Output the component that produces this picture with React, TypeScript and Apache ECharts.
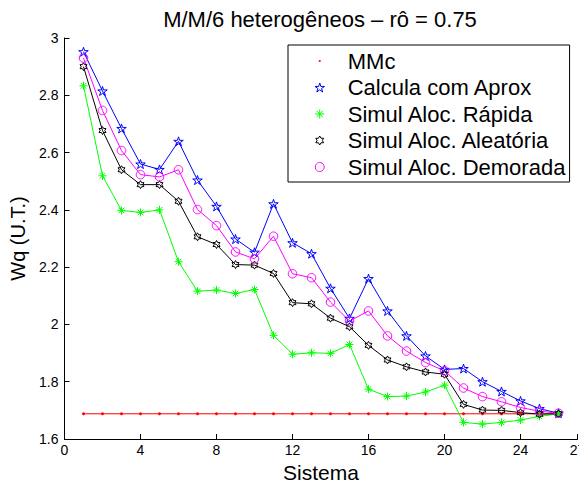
import React, { useEffect, useRef } from 'react';
import * as echarts from 'echarts';

// Sistema index (x) for every curve
const sistemas = [1, 2, 3, 4, 5, 6, 7, 8, 9, 10, 11, 12, 13, 14, 15, 16, 17, 18, 19, 20, 21, 22, 23, 24, 25, 26];

// Wq (U.T.) per sistema
const mmc = [1.688, 1.688, 1.688, 1.688, 1.688, 1.688, 1.688, 1.688, 1.688, 1.688, 1.688, 1.688, 1.688,
  1.688, 1.688, 1.688, 1.688, 1.688, 1.688, 1.688, 1.688, 1.688, 1.688, 1.688, 1.688, 1.688];
const calculaAprox = [2.952, 2.815, 2.684, 2.560, 2.541, 2.639, 2.504, 2.412, 2.298, 2.252, 2.421, 2.285, 2.247,
  2.126, 2.021, 2.160, 2.047, 1.960, 1.890, 1.843, 1.846, 1.800, 1.766, 1.733, 1.706, 1.690];
const alocRapida = [2.833, 2.519, 2.398, 2.391, 2.400, 2.219, 2.116, 2.120, 2.108, 2.122, 1.962, 1.896, 1.901,
  1.899, 1.930, 1.774, 1.748, 1.750, 1.764, 1.788, 1.658, 1.652, 1.658, 1.666, 1.679, 1.688];
const alocAleatoria = [2.900, 2.677, 2.540, 2.488, 2.488, 2.430, 2.306, 2.279, 2.209, 2.207, 2.178, 2.076, 2.072,
  2.022, 1.992, 1.927, 1.876, 1.852, 1.834, 1.826, 1.721, 1.701, 1.700, 1.692, 1.687, 1.688];
const alocDemorada = [2.930, 2.747, 2.607, 2.523, 2.515, 2.540, 2.401, 2.345, 2.253, 2.229, 2.308, 2.177, 2.163,
  2.078, 2.012, 2.047, 1.960, 1.907, 1.867, 1.838, 1.778, 1.748, 1.730, 1.710, 1.697, 1.690];

const seriesNames = ['MMc', 'Calcula com Aprox', 'Simul Aloc. Rápida', 'Simul Aloc. Aleatória', 'Simul Aloc. Demorada'];

const FONT = "'Liberation Sans', Arial, Helvetica, sans-serif";

// Marker outlines (pentagram, hexagram, asterisk, point)
const STAR = 'path://M10 0L12.245 6.91L19.51 6.91L13.63 11.18L15.88 18.09L10 13.82L4.12 18.09L6.37 11.18L0.49 6.91L7.755 6.91Z';
const HEXAGRAM = 'path://M10 0L12.887 5L18.66 5L15.77 10L18.66 15L12.887 15L10 20L7.113 15L1.34 15L4.23 10L1.34 5L7.113 5Z';
const ASTERISK = 'path://M10 0L10 20M0 10L20 10M2.93 2.93L17.07 17.07M2.93 17.07L17.07 2.93';
const DOT = 'path://M0 0M20 20M8 8L12 8L12 12L8 12Z';

const pts = (vals: number[]) => sistemas.map((x, i) => [x, vals[i]]);

const hollow = (c: string) => ({ color: 'transparent', borderColor: c, borderWidth: 1 });

const option: any = {
  animation: false,
  textStyle: { fontFamily: FONT, color: '#000' },
  title: {
    text: 'M/M/6 heterogêneos – rô = 0.75',
    left: 320,
    top: 8,
    padding: 0,
    textAlign: 'center',
    textVerticalAlign: 'top',
    textStyle: { fontSize: 22, fontWeight: 'normal', color: '#000', fontFamily: FONT },
  },
  grid: { left: 64.5, right: 1.5, top: 38, bottom: 48, containLabel: false, outerBoundsMode: 'none' },
  xAxis: {
    type: 'value',
    min: 0,
    max: 27,
    interval: 4,
    name: 'Sistema',
    nameLocation: 'middle',
    nameGap: 18,
    nameTextStyle: { fontSize: 21, color: '#000', fontFamily: FONT },
    axisLine: { lineStyle: { color: '#000', width: 1 } },
    axisTick: { inside: true, length: 5, lineStyle: { color: '#000', width: 1 } },
    splitLine: { show: false },
    axisLabel: { color: '#000', fontSize: 14, margin: 4, showMaxLabel: true, showMinLabel: true, hideOverlap: false, fontFamily: FONT },
  },
  yAxis: {
    type: 'value',
    min: 1.6,
    max: 3,
    interval: 0.2,
    name: 'Wq (U.T.)',
    nameLocation: 'middle',
    nameGap: 29,
    nameTextStyle: { fontSize: 20, color: '#000', fontFamily: FONT },
    axisLine: { show: true, lineStyle: { color: '#000', width: 1 } },
    axisTick: { show: true, inside: true, length: 5, lineStyle: { color: '#000', width: 1 } },
    splitLine: { show: false },
    axisLabel: { color: '#000', fontSize: 14, margin: 6, fontFamily: FONT },
  },
  legend: {
    orient: 'vertical',
    left: 288,
    top: 45,
    padding: [5, 3, 4, 26.5],
    itemGap: 4.5,
    itemWidth: 46,
    itemHeight: 9,
    align: 'left',
    borderColor: '#000',
    borderWidth: 1,
    backgroundColor: '#fff',
    selectedMode: false,
    textStyle: { fontSize: 22, color: '#000', fontFamily: FONT },
    data: [
      { name: seriesNames[0], icon: DOT, itemStyle: { color: '#ff0000', borderWidth: 0 } },
      { name: seriesNames[1], icon: STAR, itemStyle: hollow('#0000ff') },
      { name: seriesNames[2], icon: ASTERISK, itemStyle: hollow('#00ff00') },
      { name: seriesNames[3], icon: HEXAGRAM, itemStyle: hollow('#000000') },
      { name: seriesNames[4], icon: 'circle', itemStyle: hollow('#ff00ff') },
    ],
  },
  series: [
    {
      name: seriesNames[0], type: 'line', data: pts(mmc),
      symbol: 'circle', symbolSize: 3,
      itemStyle: { color: '#ff0000' }, lineStyle: { color: '#ff0000', width: 1 },
    },
    {
      name: seriesNames[1], type: 'line', data: pts(calculaAprox),
      symbol: STAR, symbolSize: 9.5, symbolKeepAspect: true,
      itemStyle: hollow('#0000ff'), lineStyle: { color: '#0000ff', width: 1 },
    },
    {
      name: seriesNames[2], type: 'line', data: pts(alocRapida),
      symbol: ASTERISK, symbolSize: 8, symbolKeepAspect: true,
      itemStyle: hollow('#00ff00'), lineStyle: { color: '#00ff00', width: 1 },
    },
    {
      name: seriesNames[3], type: 'line', data: pts(alocAleatoria),
      symbol: HEXAGRAM, symbolSize: 8, symbolKeepAspect: true,
      itemStyle: hollow('#000000'), lineStyle: { color: '#000000', width: 1 },
    },
    {
      name: seriesNames[4], type: 'line', data: pts(alocDemorada),
      symbol: 'circle', symbolSize: 8.5,
      itemStyle: hollow('#ff00ff'), lineStyle: { color: '#ff00ff', width: 1 },
    },
  ].map((s) => ({ ...s, silent: true, showSymbol: true, emphasis: { disabled: true } })),
};

export default function App() {
  const ref = useRef<HTMLDivElement>(null);
  useEffect(() => {
    const chart = echarts.init(ref.current!, null, { renderer: 'svg' });
    chart.setOption(option);
    return () => chart.dispose();
  }, []);
  return (
    <div
      ref={ref}
      style={{ position: 'absolute', left: 0, top: 0, width: 579, height: 487, background: '#fff' }}
    />
  );
}
